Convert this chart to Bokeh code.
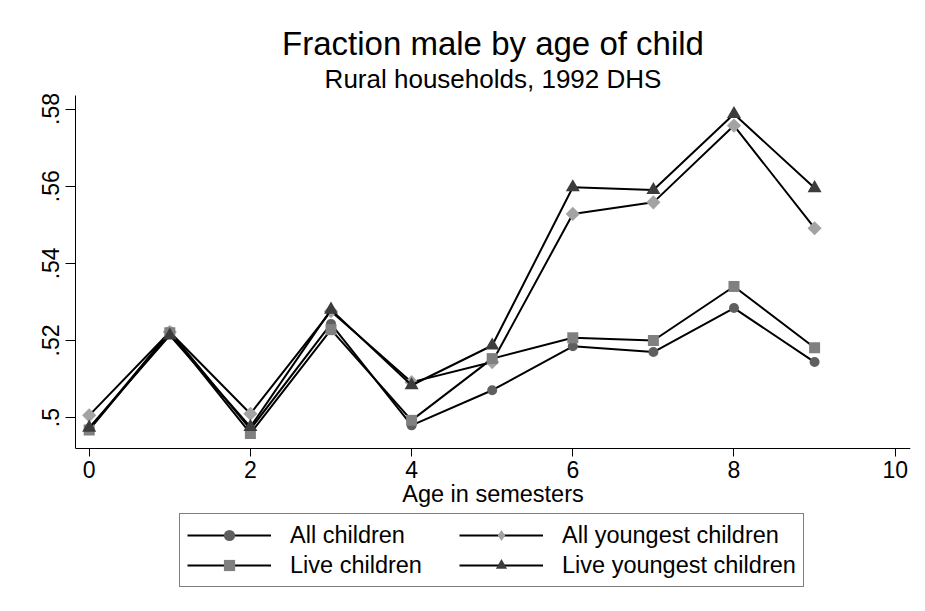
from bokeh.plotting import figure
from bokeh.models import FixedTicker, Title, Legend, LegendItem, Range1d
from bokeh.embed import file_html
from bokeh.resources import INLINE
import math

# ---- data ----
ages = [0, 1, 2, 3, 4, 5, 6, 7, 8, 9]
all_children = [0.4970, 0.5223, 0.4970, 0.5243, 0.4980, 0.5071, 0.5185, 0.5170, 0.5284, 0.5144]
all_youngest = [0.5006, 0.5222, 0.5010, 0.5276, 0.5092, 0.5144, 0.5528, 0.5558, 0.5757, 0.5491]
live_children = [0.4968, 0.5220, 0.4959, 0.5228, 0.4993, 0.5153, 0.5207, 0.5200, 0.5340, 0.5181]
live_youngest = [0.4974, 0.5213, 0.4976, 0.5280, 0.5084, 0.5187, 0.5597, 0.5590, 0.5787, 0.5595]

series_labels = ["All children", "All youngest children", "Live children", "Live youngest children"]
y_ticks = [0.50, 0.52, 0.54, 0.56, 0.58]
y_tick_labels = [".5", ".52", ".54", ".56", ".58"]
x_ticks = [0, 2, 4, 6, 8, 10]

title_text = "Fraction male by age of child"
subtitle_text = "Rural households, 1992 DHS"
x_label = "Age in semesters"

FONT = "Liberation Sans"

# ---- layout (pixels) ----
W, H = 917, 603
LEFT, RIGHT, TOP = 75, 7, 95
AXIS_Y_PX = 448                     # where the x axis sits
Y_LO, Y_HI = 0.492, 0.5835          # visible value span between axis and top
px_per_unit = (AXIS_Y_PX - TOP) / (Y_HI - Y_LO)
frame_bottom_val = Y_HI - (H - TOP) / px_per_unit

p = figure(width=W, height=H, output_backend="svg", toolbar_location=None,
           x_range=Range1d(-0.17, 10.19), y_range=Range1d(frame_bottom_val, Y_HI),
           min_border_left=LEFT, min_border_right=RIGHT, min_border_top=TOP,
           min_border_bottom=0, title=None)

p.background_fill_color = "white"
p.border_fill_color = "white"
p.outline_line_color = None
p.xgrid.visible = False
p.ygrid.visible = False

# titles (first added is closest to the frame)
sub = Title(text=subtitle_text, align="center", text_font=FONT, text_font_size="26px",
            text_font_style="normal", text_color="black", standoff=3)
main = Title(text=title_text, align="center", text_font=FONT, text_font_size="33px",
             text_font_style="normal", text_color="black", standoff=-2)
p.add_layout(sub, "above")
p.add_layout(main, "above")

# axes
for ax in (p.xaxis[0], p.yaxis[0]):
    ax.axis_line_color = "black"
    ax.axis_line_width = 1
    ax.major_tick_line_color = "black"
    ax.major_tick_in = 0
    ax.minor_tick_line_color = None
    ax.major_label_text_font = FONT
    ax.major_label_text_font_size = "23px"
    ax.major_label_text_color = "black"

p.xaxis.fixed_location = Y_LO
p.xaxis.ticker = FixedTicker(ticks=x_ticks)
p.xaxis.major_tick_out = 8
p.xaxis.major_label_standoff = 4
p.xaxis.axis_label = x_label
p.xaxis.axis_label_text_font = FONT
p.xaxis.axis_label_text_font_size = "23.5px"
p.xaxis.axis_label_text_font_style = "normal"
p.xaxis.axis_label_text_color = "black"
p.xaxis.axis_label_standoff = 0

p.yaxis.bounds = (Y_LO, Y_HI)
p.yaxis.ticker = FixedTicker(ticks=y_ticks)
p.yaxis.major_label_overrides = {t: l for t, l in zip(y_ticks, y_tick_labels)}
p.yaxis.major_label_orientation = "vertical"
p.yaxis.major_tick_out = 10
p.yaxis.major_label_standoff = 6

styles = [
    (all_children, dict(marker="circle", size=10, angle=0.0), "circle", "#5f5f5f"),
    (all_youngest, dict(marker="square", size=10, angle=math.pi / 4), "diamond", "#a3a3a3"),
    (live_children, dict(marker="square", size=11, angle=0.0), "square", "#808080"),
    (live_youngest, dict(marker="triangle", size=14, angle=0.0), "triangle", "#3c3c3c"),
]

items = {}
for label, (vals, mk, legend_marker, col) in zip(series_labels, styles):
    lr = p.line(ages, vals, line_color="black", line_width=2)
    sr = p.scatter(ages, vals, fill_color=col, line_color=None, **mk)
    # legend-only marker (no finite points, so nothing drawn in the plot)
    lg = p.scatter([float("nan")], [float("nan")], marker=legend_marker,
                   fill_color=col, line_color=None, size=10)
    items[label] = LegendItem(label=label, renderers=[lr, lg])

legend = Legend(items=[items["All children"], items["Live children"],
                       items["All youngest children"], items["Live youngest children"]],
                orientation="vertical", ncols=2, location=(104, 16),
                label_text_font=FONT, label_text_font_size="23.5px",
                label_text_color="black", label_text_baseline="middle",
                glyph_width=84, glyph_height=28, label_standoff=19, label_width=167,
                label_height=28, spacing=2, padding=7, margin=0,
                border_line_color="black", border_line_width=1,
                background_fill_color="white", background_fill_alpha=1.0)
p.add_layout(legend, "center")

open("out.html", "w").write(file_html(p, INLINE))
